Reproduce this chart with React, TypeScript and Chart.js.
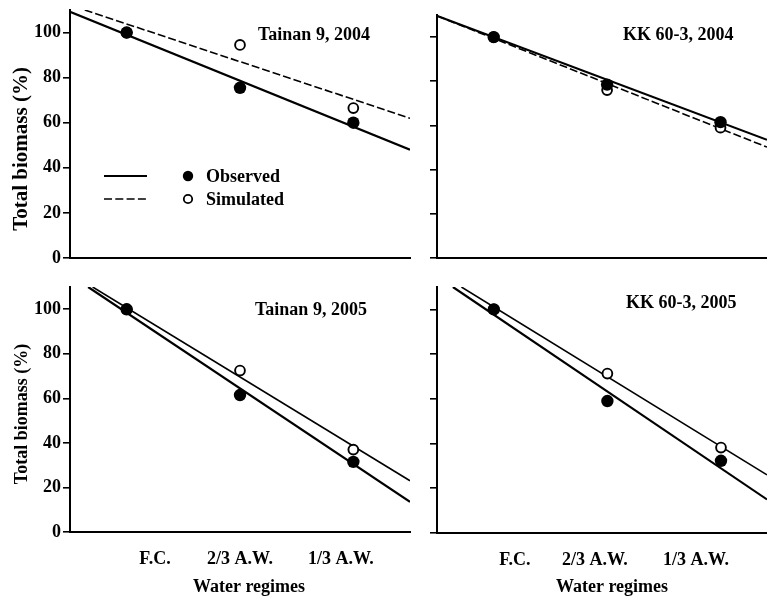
import React, { useEffect, useRef } from "react";
import { Chart, registerables } from "chart.js";

Chart.register(...registerables);

// ---------- data ----------
const regimeLabels = ["F.C.", "2/3 A.W.", "1/3 A.W."];
const regimeX = [1, 2, 3];
const yTickValues = [0, 20, 40, 60, 80, 100];
const legendLabels = ["Observed", "Simulated"];
const yAxisTitle = "Total biomass (%)";
const xAxisTitle = "Water regimes";
const panelTitles = ["Tainan 9, 2004", "KK 60-3, 2004", "Tainan 9, 2005", "KK 60-3, 2005"];

// Tainan 9, 2004
const t2004Observed = [100, 75.5, 60];
const t2004Simulated = [100, 94.5, 66.5];
const t2004ObservedFit = [[0.5, 109.2], [3.5, 48]];
const t2004SimulatedFit = [[0.63, 110], [3.5, 62]];

// KK 60-3, 2004
const k2004Observed = [100, 78.5, 61.5];
const k2004Simulated = [100, 76, 59];
const k2004ObservedFit = [[0.5, 109.6], [3.41, 53.5]];
const k2004SimulatedFit = [[0.5, 109.6], [3.41, 50.2]];

// Tainan 9, 2005
const t2005Observed = [100, 61.5, 31.5];
const t2005Simulated = [100, 72.5, 37];
const t2005ObservedFit = [[0.66, 110], [3.5, 13.5]];
const t2005SimulatedFit = [[0.7, 110], [3.5, 23]];

// KK 60-3, 2005
const k2005Observed = [100, 59, 32.3];
const k2005Simulated = [100, 71.3, 38.2];
const k2005ObservedFit = [[0.64, 110], [3.405, 15]];
const k2005SimulatedFit = [[0.715, 110], [3.405, 26]];

// x values at which the regime labels sit on the bottom axes
const bottomLeftTickX = [1.25, 2.0, 2.89];
const bottomRightTickX = [1.185, 1.89, 2.78];

// ---------- layout / style ----------
const FONT_FAMILY = "'Liberation Serif', 'Times New Roman', serif";
const FONT = `bold 18px ${FONT_FAMILY}`;

type Spec = {
  key: string;
  title: string;
  observed: number[];
  simulated: number[];
  observedFit: number[][];
  simulatedFit: number[][];
  left: number; top: number; width: number; height: number;
  padTop: number; padRight: number; yWidth: number; xHeight: number;
  xMax: number;
  showYLabels: boolean;
  showXLabels: boolean;
  xTicks: number[];
  simDash: number[];
  titlePos: [number, number];
  yTitleCenter?: [number, number];
  yTitleSize?: number;
  xTitleCenter?: [number, number];
  legend?: boolean;
};

const panels: Spec[] = [
  {
    key: "tl", title: panelTitles[0],
    observed: t2004Observed, simulated: t2004Simulated,
    observedFit: t2004ObservedFit, simulatedFit: t2004SimulatedFit,
    left: 0, top: 0, width: 420, height: 270,
    padTop: 10, padRight: 10, yWidth: 70, xHeight: 12, xMax: 3.5,
    showYLabels: true, showXLabels: false, xTicks: regimeX,
    simDash: [8, 3], titlePos: [258, 40], yTitleCenter: [22, 149], yTitleSize: 21, legend: true,
  },
  {
    key: "tr", title: panelTitles[1],
    observed: k2004Observed, simulated: k2004Simulated,
    observedFit: k2004ObservedFit, simulatedFit: k2004SimulatedFit,
    left: 400, top: 0, width: 367, height: 270,
    padTop: 15, padRight: 0, yWidth: 37, xHeight: 12, xMax: 3.41,
    showYLabels: false, showXLabels: false, xTicks: regimeX,
    simDash: [8, 3], titlePos: [223, 40],
  },
  {
    key: "bl", title: panelTitles[2],
    observed: t2005Observed, simulated: t2005Simulated,
    observedFit: t2005ObservedFit, simulatedFit: t2005SimulatedFit,
    left: 0, top: 270, width: 420, height: 329,
    padTop: 17, padRight: 10, yWidth: 70, xHeight: 67, xMax: 3.5,
    showYLabels: true, showXLabels: true, xTicks: bottomLeftTickX,
    simDash: [], titlePos: [255, 45], yTitleCenter: [22, 144], yTitleSize: 18, xTitleCenter: [249, 317],
  },
  {
    key: "br", title: panelTitles[3],
    observed: k2005Observed, simulated: k2005Simulated,
    observedFit: k2005ObservedFit, simulatedFit: k2005SimulatedFit,
    left: 400, top: 270, width: 367, height: 329,
    padTop: 17, padRight: 0, yWidth: 37, xHeight: 66, xMax: 3.405,
    showYLabels: false, showXLabels: true, xTicks: bottomRightTickX,
    simDash: [], titlePos: [226, 38], xTitleCenter: [212, 317],
  },
];

function makeTextPlugin(spec: Spec) {
  return {
    id: "panelText" + spec.key,
    afterDraw(chart: any) {
      const ctx: CanvasRenderingContext2D = chart.ctx;
      ctx.save();
      ctx.fillStyle = "#000";
      ctx.strokeStyle = "#000";
      ctx.font = FONT;
      ctx.textAlign = "left";
      ctx.textBaseline = "alphabetic";
      ctx.fillText(spec.title, spec.titlePos[0], spec.titlePos[1]);

      if (spec.legend) {
        const rows = [176, 199];
        rows.forEach((y, i) => {
          ctx.beginPath();
          ctx.lineWidth = i === 0 ? 2.2 : 1.6;
          ctx.setLineDash(i === 0 ? [] : [8, 3.3]);
          ctx.moveTo(104, y);
          ctx.lineTo(147, y);
          ctx.stroke();
          ctx.setLineDash([]);
          ctx.beginPath();
          if (i === 0) {
            ctx.arc(188, y, 5.2, 0, Math.PI * 2);
            ctx.fillStyle = "#000";
            ctx.fill();
          } else {
            ctx.arc(188, y, 4.2, 0, Math.PI * 2);
            ctx.fillStyle = "#fff";
            ctx.fill();
            ctx.lineWidth = 1.8;
            ctx.stroke();
          }
          ctx.fillStyle = "#000";
          ctx.textBaseline = "middle";
          ctx.fillText(legendLabels[i], 206, y + 1);
        });
      }

      ctx.textAlign = "center";
      ctx.textBaseline = "middle";
      if (spec.yTitleCenter) {
        ctx.save();
        ctx.font = `bold ${spec.yTitleSize || 18}px ${FONT_FAMILY}`;
        ctx.translate(spec.yTitleCenter[0], spec.yTitleCenter[1]);
        ctx.rotate(-Math.PI / 2);
        ctx.fillText(yAxisTitle, 0, 0);
        ctx.restore();
      }
      if (spec.xTitleCenter) {
        ctx.fillText(xAxisTitle, spec.xTitleCenter[0], spec.xTitleCenter[1]);
      }
      ctx.restore();
    },
  };
}

function buildConfig(spec: Spec): any {
  const toPoints = (vals: number[]) => regimeX.map((x, i) => ({ x, y: vals[i] }));
  const toLine = (pairs: number[][]) => pairs.map(([x, y]) => ({ x, y }));
  return {
    type: "line",
    data: {
      datasets: [
        {
          label: legendLabels[0],
          data: toPoints(spec.observed),
          showLine: false,
          pointRadius: 6.2,
          pointBackgroundColor: "#000",
          pointBorderColor: "#000",
          pointBorderWidth: 0,
        },
        {
          label: legendLabels[1],
          data: toPoints(spec.simulated),
          showLine: false,
          pointRadius: 4.9,
          pointBackgroundColor: "#fff",
          pointBorderColor: "#000",
          pointBorderWidth: 1.9,
        },
        {
          label: legendLabels[0] + " fit",
          data: toLine(spec.observedFit),
          borderColor: "#000",
          borderWidth: 2.2,
          pointRadius: 0,
          fill: false,
          tension: 0,
        },
        {
          label: legendLabels[1] + " fit",
          data: toLine(spec.simulatedFit),
          borderColor: "#000",
          borderWidth: 1.6,
          borderDash: spec.simDash,
          pointRadius: 0,
          fill: false,
          tension: 0,
        },
      ],
    },
    options: {
      animation: false,
      responsive: false,
      maintainAspectRatio: false,
      devicePixelRatio: 1,
      events: [],
      layout: {
        autoPadding: false,
        padding: { top: spec.padTop, right: spec.padRight, left: 0, bottom: 0 },
      },
      plugins: { legend: { display: false }, tooltip: { enabled: false }, title: { display: false } },
      scales: {
        x: {
          type: "linear",
          min: 0.5,
          max: spec.xMax,
          grid: { display: false, drawTicks: false },
          border: { display: true, color: "#000", width: 2 },
          ticks: {
            display: spec.showXLabels,
            color: "#000",
            font: { family: FONT_FAMILY, size: 18, weight: "bold" },
            padding: 17,
            maxRotation: 0,
            autoSkip: false,
            callback: (_v: any, i: number) => regimeLabels[i],
          },
          afterBuildTicks: (s: any) => {
            s.ticks = spec.xTicks.map((v) => ({ value: v }));
          },
          afterFit: (s: any) => {
            s.height = spec.xHeight;
            s.paddingLeft = 0;
            s.paddingRight = 0;
          },
        },
        y: {
          type: "linear",
          min: 0,
          max: 110,
          grid: {
            display: true,
            drawOnChartArea: false,
            drawTicks: true,
            tickLength: 7,
            color: "#000",
            lineWidth: 1.6,
          },
          border: { display: true, color: "#000", width: 2 },
          ticks: {
            display: spec.showYLabels,
            color: "#000",
            font: { family: FONT_FAMILY, size: 18, weight: "bold" },
            padding: 2,
          },
          afterBuildTicks: (s: any) => {
            s.ticks = yTickValues.map((v) => ({ value: v }));
          },
          afterFit: (s: any) => {
            s.width = spec.yWidth;
            s.paddingTop = 0;
            s.paddingBottom = 0;
          },
        },
      },
    },
    plugins: [makeTextPlugin(spec)],
  };
}

function Panel({ spec }: { spec: Spec }) {
  const ref = useRef<HTMLCanvasElement | null>(null);
  useEffect(() => {
    if (!ref.current) return;
    const chart = new Chart(ref.current, buildConfig(spec));
    return () => chart.destroy();
  }, [spec]);
  return (
    <canvas
      ref={ref}
      width={spec.width}
      height={spec.height}
      style={{
        position: "absolute",
        left: spec.left,
        top: spec.top,
        width: spec.width,
        height: spec.height,
      }}
    />
  );
}

export default function App() {
  return (
    <div
      style={{
        position: "absolute",
        left: 0,
        top: 0,
        width: 767,
        height: 599,
        background: "#fff",
        overflow: "hidden",
      }}
    >
      {panels.map((p) => (
        <Panel key={p.key} spec={p} />
      ))}
    </div>
  );
}
